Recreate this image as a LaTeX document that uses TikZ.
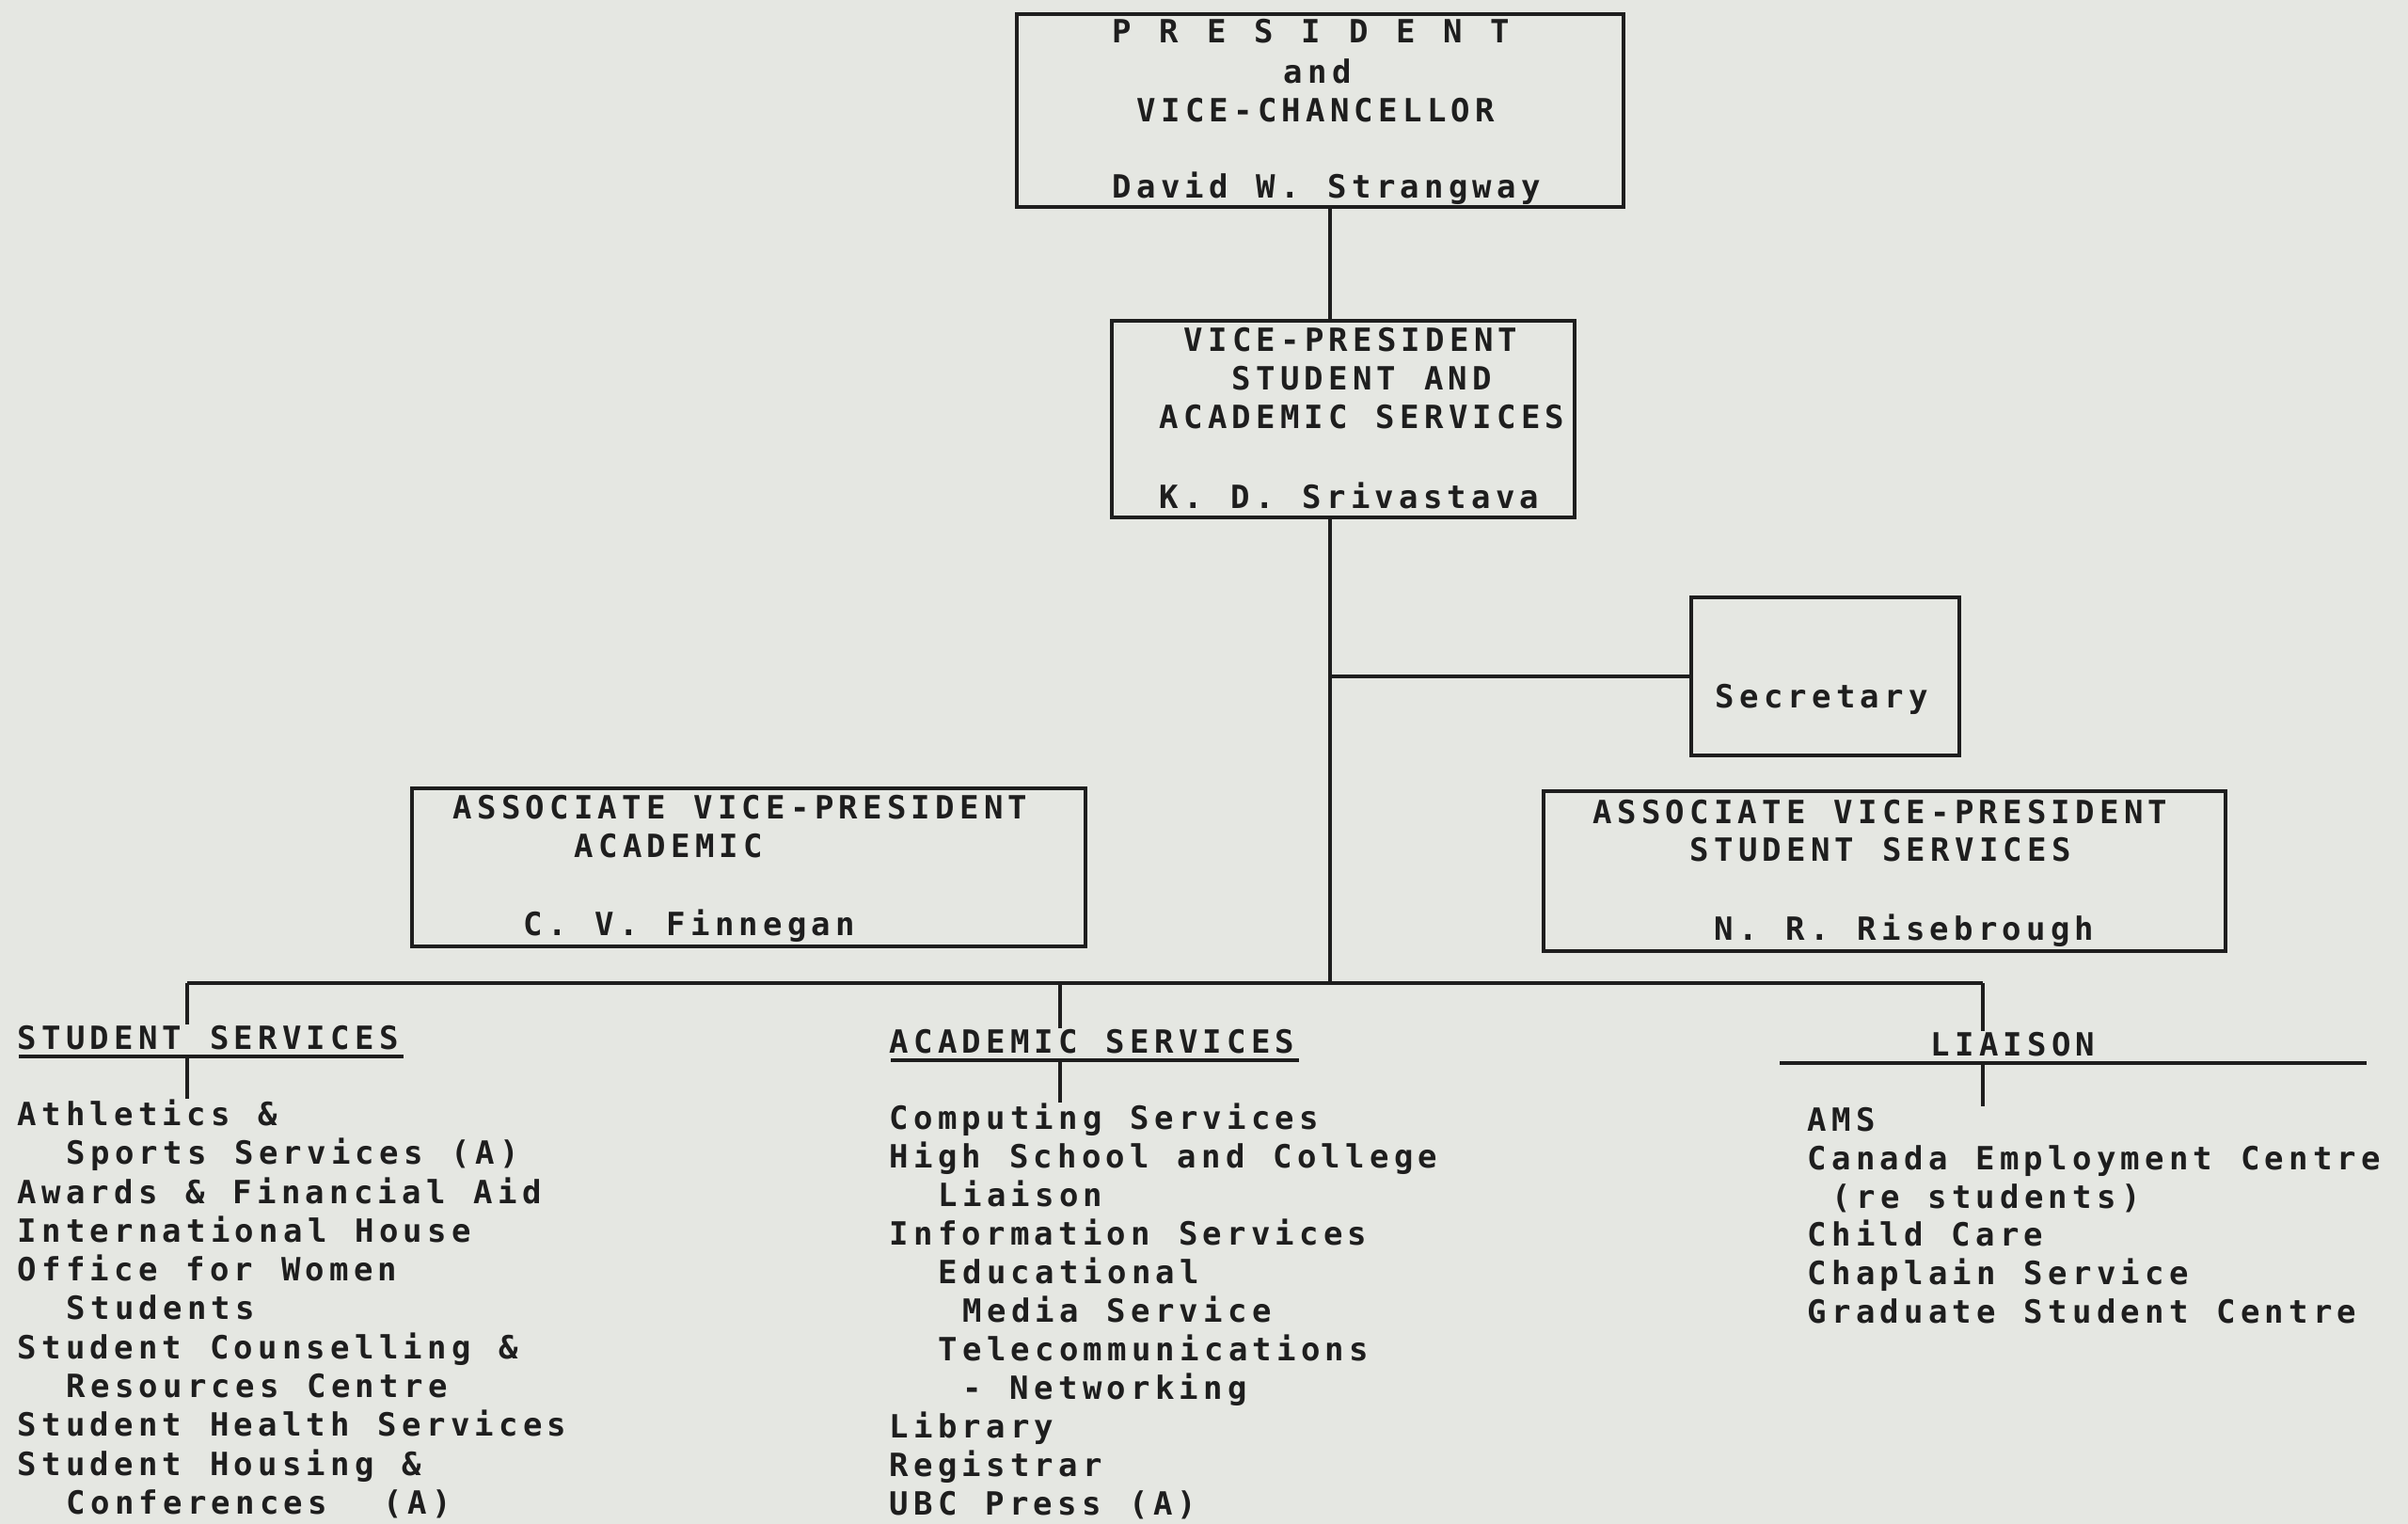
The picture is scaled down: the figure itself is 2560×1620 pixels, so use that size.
\documentclass[tikz,border=0pt]{standalone}
\usepackage{fontspec}
\newfontfamily\twfont{DejaVu Sans Mono Bold}[LetterSpace=15.4,WordSpace={1.16,0,0}]
\newcommand\twsetup{\fontsize{10.2pt}{12pt}\twfont\selectfont}
\definecolor{paper}{RGB}{229,231,226}
\definecolor{ink}{RGB}{30,30,30}
\begin{document}
\begin{tikzpicture}[x=0.3pt,y=-0.3pt,
  tw/.style={anchor=base west, inner sep=0pt, text=ink, font=\twsetup},
  box/.style={draw=ink, line width=1.2pt, inner sep=0pt},
  ln/.style={draw=ink, line width=1.2pt}]
\fill[paper] (0,0) rectangle (2560,1620);
\useasboundingbox (0,0) rectangle (2560,1620);

% ---------- boxes ----------
\node[box, minimum width={645*0.3pt}, minimum height={205*0.3pt}] (pres) at (1403.5,117.5) {};
\node[box, minimum width={492*0.3pt}, minimum height={209*0.3pt}] (vp) at (1428,445.5) {};
\node[box, minimum width={285*0.3pt}, minimum height={168*0.3pt}] (sec) at (1940.5,719) {};
\node[box, minimum width={716*0.3pt}, minimum height={168*0.3pt}] (avpa) at (796,922) {};
\node[box, minimum width={725*0.3pt}, minimum height={170*0.3pt}] (avps) at (2003.5,926) {};

% ---------- box texts ----------
\node[tw] (p1) at (1182,45) {P R E S I D E N T};
\node[tw] (p2) at (1364,88) {and};
\node[tw] (p3) at (1208,129) {VICE-CHANCELLOR};
\node[tw] (p4) at (1182,210) {David W. Strangway};

\node[tw] (v1) at (1258,373) {VICE-PRESIDENT};
\node[tw] (v2) at (1309,414) {STUDENT AND};
\node[tw] (v3) at (1232,455) {ACADEMIC SERVICES};
\node[tw] (v4) at (1232,540) {K. D. Srivastava};

\node[tw] (s0) at (1823,752) {Secretary};

\node[tw] (a1) at (481,870) {ASSOCIATE VICE-PRESIDENT};
\node[tw] (a2) at (610,911) {ACADEMIC};
\node[tw] (a3) at (556,994) {C. V. Finnegan};

\node[tw] (b1) at (1693,875) {ASSOCIATE VICE-PRESIDENT};
\node[tw] (b2) at (1796,915) {STUDENT SERVICES};
\node[tw] (b3) at (1822,999) {N. R. Risebrough};

% ---------- headers ----------
\node[tw] (hS) at (18,1115) {STUDENT SERVICES};
\node[tw] (hA) at (945,1119) {ACADEMIC SERVICES};
\node[tw] (hL) at (2052,1122) {LIAISON};

% ---------- lists ----------
\node[tw] (s1) at (18,1196) {Athletics \&};
\node[tw] at (70,1237) {Sports Services (A)};
\node[tw] at (18,1279) {Awards \& Financial Aid};
\node[tw] at (18,1320) {International House};
\node[tw] at (18,1361) {Office for Women};
\node[tw] at (70,1402) {Students};
\node[tw] at (18,1444) {Student Counselling \&};
\node[tw] at (70,1485) {Resources Centre};
\node[tw] at (18,1526) {Student Health Services};
\node[tw] at (18,1568) {Student Housing \&};
\node[tw] at (70,1609) {Conferences\ \ (A)};

\node[tw] (c1) at (945,1200) {Computing Services};
\node[tw] at (945,1241) {High School and College};
\node[tw] at (997,1282) {Liaison};
\node[tw] at (945,1323) {Information Services};
\node[tw] at (997,1364) {Educational};
\node[tw] at (1023,1405) {Media Service};
\node[tw] at (997,1446) {Telecommunications};
\node[tw] at (1023,1487) {- Networking};
\node[tw] at (945,1528) {Library};
\node[tw] at (945,1569) {Registrar};
\node[tw] at (945,1610) {UBC Press (A)};

\node[tw] (l1) at (1921,1202) {AMS};
\node[tw] at (1921,1243) {Canada Employment Centre};
\node[tw] at (1947,1284) {(re students)};
\node[tw] at (1921,1324) {Child Care};
\node[tw] at (1921,1365) {Chaplain Service};
\node[tw] at (1921,1406) {Graduate Student Centre};

% ---------- coordinates ----------
\coordinate (tr) at (1414,0);
\coordinate (bus) at (0,1045);
\coordinate (dS) at (199,0);
\coordinate (dA) at (1127,0);
\coordinate (dL) at (2108,0);
\coordinate (uS1) at (20,1123);  \coordinate (uS2) at (429,1123);
\coordinate (uA1) at (947,1127); \coordinate (uA2) at (1381,1127);
\coordinate (uL1) at (1892,1130);\coordinate (uL2) at (2516,1130);

% ---------- connectors ----------
\draw[ln] (pres.south -| tr) -- (vp.north -| tr);
\draw[ln] (vp.south -| tr) -- (tr |- bus);
\draw[ln] (tr |- sec.west) -- (sec.west);
\draw[ln] (dS |- bus) -- (dL |- bus);
\draw[ln] (dS |- bus) -- (dS |- hS.north);
\draw[ln] (dA |- bus) -- (dA |- hA.north);
\draw[ln] (dL |- bus) -- (dL |- hL.north);
\draw[ln] (uS1) -- (uS2);
\draw[ln] (uA1) -- (uA2);
\draw[ln] (uL1) -- (uL2);
\draw[ln] (dS |- uS1) -- (dS |- s1.north);
\draw[ln] (dA |- uA1) -- (dA |- c1.north);
\draw[ln] (dL |- uL1) -- (dL |- l1.north);
\end{tikzpicture}
\end{document}
